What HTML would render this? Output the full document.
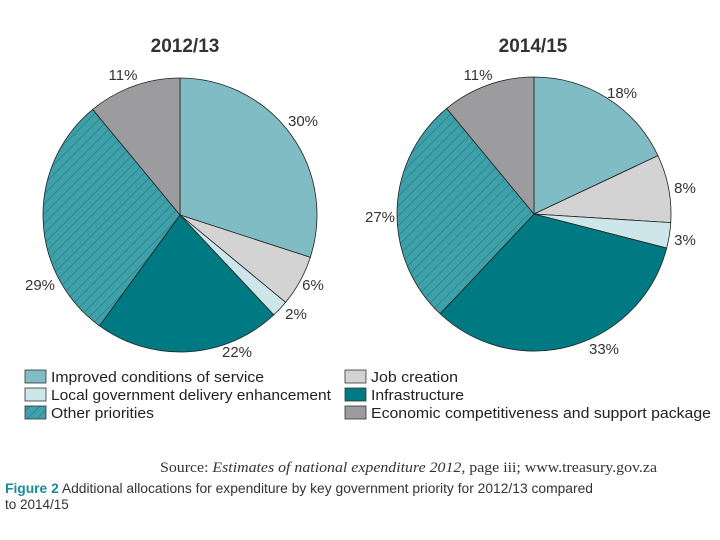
<!DOCTYPE html>
<html><head><meta charset="utf-8"><style>
body{margin:0;background:#fff;width:720px;height:540px;overflow:hidden;font-family:"Liberation Sans",sans-serif}
svg{display:block}
</style></head><body>
<svg id="c" width="720" height="540">
<defs>
<pattern id="hatch" width="7" height="7" patternUnits="userSpaceOnUse" patternTransform="rotate(45)">
<rect width="7" height="7" fill="#3fa0a9"/>
<line x1="0" y1="0" x2="0" y2="7" stroke="#1f7c86" stroke-width="1.3"/>
</pattern>
</defs>
<text x="185" y="52" text-anchor="middle" font-size="19" font-weight="bold" fill="#333">2012/13</text>
<text x="533" y="52" text-anchor="middle" font-size="19" font-weight="bold" fill="#333">2014/15</text>
<text x="160" y="472" textLength="497" lengthAdjust="spacingAndGlyphs" font-family="Liberation Serif,serif" font-size="15" fill="#333">Source: <tspan font-style="italic">Estimates of national expenditure 2012,</tspan> page iii; www.treasury.gov.za</text>
<text x="5" y="493" textLength="588" lengthAdjust="spacingAndGlyphs" font-size="13.5" fill="#333"><tspan font-weight="bold" fill="#1a8a9a">Figure 2</tspan> Additional allocations for expenditure by key government priority for 2012/13 compared</text>
<text x="5" y="509" font-size="13.5" fill="#333">to 2014/15</text>
</svg>
<script>
const categories=["Improved conditions of service","Job creation","Local government delivery enhancement","Infrastructure","Other priorities","Economic competitiveness and support package"];
const values2012=[30,6,2,22,29,11];
const values2014=[18,8,3,33,27,11];
const colors=["#7fbcc3","#d3d3d4","#cde6ea","#007a82","url(#hatch)","#9c9c9e"];
const labelPos2012=[[303,126],[313,290],[296,319],[237,357],[40,290],[123,80]];
const labelPos2014=[[622,98],[685,193],[685,245],[604,354],[380,222],[478,80]];
const legendWidths=[213,87,280,93,103,340];
const svg=document.getElementById('c');
const NS="http://www.w3.org/2000/svg";
function pie(vals,cx,cy,r,labels,name){
  const total=vals.reduce((a,b)=>a+b,0);
  let a0=0;
  vals.forEach((v,i)=>{
    const a1=a0+v/total*2*Math.PI;
    const x0=cx+r*Math.sin(a0),y0=cy-r*Math.cos(a0),x1=cx+r*Math.sin(a1),y1=cy-r*Math.cos(a1);
    const p=document.createElementNS(NS,'path');
    p.setAttribute('d',`M${cx},${cy}L${x0},${y0}A${r},${r} 0 ${a1-a0>Math.PI?1:0} 1 ${x1},${y1}Z`);
    p.setAttribute('fill',colors[i]);p.setAttribute('stroke','#222');p.setAttribute('stroke-width','0.8');
    
    
    svg.appendChild(p);
    const t=document.createElementNS(NS,'text');
    t.setAttribute('x',labels[i][0]);t.setAttribute('y',labels[i][1]);t.setAttribute('text-anchor','middle');
    t.setAttribute('font-size','15');t.setAttribute('fill','#333');t.textContent=v+'%';
    
    
    svg.appendChild(t);
    a0=a1;
  });
}
pie(values2012,180,215,137,labelPos2012,'pie-2012');
pie(values2014,534,214,137,labelPos2014,'pie-2014');
const legendOrder=[0,1,2,3,4,5];
const legendXY=[[25,370],[345,370],[25,388],[345,388],[25,406],[345,406]];
legendOrder.forEach((ci,k)=>{
  const [x,y]=legendXY[k];
  const r=document.createElementNS(NS,'rect');
  r.setAttribute('x',x);r.setAttribute('y',y);r.setAttribute('width',21);r.setAttribute('height',13);
  r.setAttribute('fill',colors[ci]);r.setAttribute('stroke','#333');r.setAttribute('stroke-width','0.8');
  
  
  svg.appendChild(r);
  const t=document.createElementNS(NS,'text');
  t.setAttribute('x',x+26);t.setAttribute('y',y+12);t.setAttribute('font-size','15');t.setAttribute('fill','#222');
  t.setAttribute('textLength',legendWidths[ci]);t.setAttribute('lengthAdjust','spacingAndGlyphs');
  t.textContent=categories[ci];
  
  
  svg.appendChild(t);
});
</script>
</body></html>
